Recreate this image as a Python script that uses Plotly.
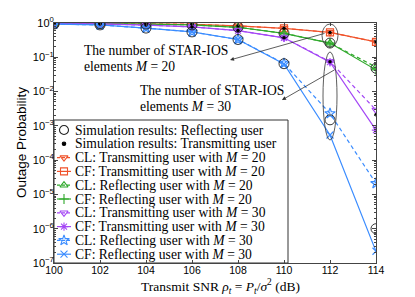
import plotly.graph_objects as go

# ---------------- data ----------------
snr = [100, 102, 104, 106, 108, 110, 112, 114]

cl_trans_m20 = [0.98, 0.97, 0.95, 0.92, 0.82, 0.70, 0.53, 0.28]
cf_trans_m20 = [0.98, 0.97, 0.95, 0.92, 0.82, 0.70, 0.53, 0.28]
cl_refl_m20 = [0.97, 0.96, 0.93, 0.88, 0.75, 0.50, 0.26, 0.052]
cf_refl_m20 = [0.97, 0.96, 0.93, 0.88, 0.75, 0.50, 0.26, 0.043]
cl_trans_m30 = [0.96, 0.94, 0.87, 0.77, 0.60, 0.37, 0.075, 0.0029]
cf_trans_m30 = [0.96, 0.94, 0.87, 0.77, 0.60, 0.37, 0.072, 0.00075]
cl_refl_m30 = [0.93, 0.88, 0.71, 0.55, 0.33, 0.066, 0.0023, 2.1e-5]
cf_refl_m30 = [0.93, 0.88, 0.71, 0.55, 0.33, 0.064, 0.00054, 2.2e-7]

sim_refl_m20 = [0.97, 0.96, 0.93, 0.88, 0.75, 0.50, 0.26, 0.048]
sim_refl_m30 = [0.93, 0.88, 0.71, 0.55, 0.33, 0.065, 0.0015, 1.0e-6]
sim_trans_m20 = [0.98, 0.97, 0.95, 0.92, 0.82, 0.70, 0.53, 0.28]
sim_trans_m30 = [0.96, 0.94, 0.87, 0.77, 0.60, 0.37, 0.074, 0.0021]

x_ticks = [100, 102, 104, 106, 108, 110, 112, 114]
y_tickvals = [1e-7, 1e-6, 1e-5, 1e-4, 1e-3, 1e-2, 1e-1, 1]
y_ticktext = ["10<sup>−7</sup>", "10<sup>−6</sup>", "10<sup>−5</sup>", "10<sup>−4</sup>",
              "10<sup>−3</sup>", "10<sup>−2</sup>", "10<sup>−1</sup>", "10<sup>0</sup>"]

RED = "#f0522a"
GREEN = "#2ea82a"
PURPLE = "#a447f5"
BLUE = "#3a8cff"

series = [
    ("CL: Transmitting user with <i>M</i> = 20", cl_trans_m20, RED, "triangle-down-open", "4px,3px", 7),
    ("CF: Transmitting user with <i>M</i> = 20", cf_trans_m20, RED, "square-open", "solid", 7),
    ("CL: Reflecting user with <i>M</i> = 20", cl_refl_m20, GREEN, "triangle-up-open", "4px,3px", 7),
    ("CF: Reflecting user with <i>M</i> = 20", cf_refl_m20, GREEN, "cross-thin-open", "solid", 7),
    ("CL: Transmitting user with <i>M</i> = 30", cl_trans_m30, PURPLE, "triangle-down-open", "4px,3px", 7),
    ("CF: Transmitting user with <i>M</i> = 30", cf_trans_m30, PURPLE, "asterisk-open", "solid", 7),
    ("CL: Reflecting user with <i>M</i> = 30", cl_refl_m30, BLUE, "star-open", "4px,3px", 8),
    ("CF: Reflecting user with <i>M</i> = 30", cf_refl_m30, BLUE, "x-thin-open", "solid", 7),
]

# plot area in pixels
L, R, T, B = 54, 39, 23, 34
W, H = 415, 297
PW, PH = W - L - R, H - T - B


def px(xp):
    return (xp - L) / PW


def py(yp):
    return (H - B - yp) / PH


fig = go.Figure()

for name, vals, col, sym, dash, ms in series:
    fig.add_trace(go.Scatter(
        x=snr, y=vals, mode="lines+markers", name=name, showlegend=False,
        line=dict(color=col, width=1.2, dash=dash),
        marker=dict(symbol=sym, size=ms, color=col, line=dict(color=col, width=1.2)),
    ))

for vals in (sim_refl_m20, sim_refl_m30):
    fig.add_trace(go.Scatter(
        x=snr, y=vals, mode="markers", showlegend=False,
        marker=dict(symbol="circle-open", size=10, color="#222", line=dict(color="#222", width=0.9)),
    ))
for vals in (sim_trans_m20, sim_trans_m30):
    fig.add_trace(go.Scatter(
        x=snr, y=vals, mode="markers", showlegend=False,
        marker=dict(symbol="circle", size=3.5, color="black"),
    ))

# ---------------- custom legend ----------------
legend_entries = [
    ("Simulation results: Reflecting user", "#222", "circle-open", None, 9),
    ("Simulation results: Transmitting user", "black", "circle", None, 3.5),
] + [(n, c, s, d, m) for n, _, c, s, d, m in series]

row0, dy = 130, 13.8
for i, (name, col, sym, dash, ms) in enumerate(legend_entries):
    yy = py(row0 + dy * i)
    if dash is not None:
        fig.add_trace(go.Scatter(
            x=[px(57), px(71)], y=[yy, yy], xaxis="x2", yaxis="y2", mode="lines",
            showlegend=False, hoverinfo="skip",
            line=dict(color=col, width=1.2, dash="solid" if dash == "solid" else "3px,2px"),
        ))
    fig.add_trace(go.Scatter(
        x=[px(64)], y=[yy], xaxis="x2", yaxis="y2", mode="markers",
        showlegend=False, hoverinfo="skip",
        marker=dict(symbol=sym, size=ms, color=col, line=dict(color=col, width=1.1)),
    ))
    fig.add_annotation(
        x=px(73), y=yy, xref="paper", yref="paper", text=name, showarrow=False,
        xanchor="left", yanchor="middle",
        font=dict(family="Liberation Serif", size=13.6, color="black"),
    )

shapes = [
    dict(type="rect", xref="paper", yref="paper", x0=0, x1=px(288), y0=0, y1=py(120),
         line=dict(color="#333", width=1), fillcolor="white", layer="below"),
    dict(type="circle", xref="paper", yref="paper", x0=px(322), x1=px(338), y0=py(47), y1=py(24),
         line=dict(color="#333", width=0.8)),
    dict(type="circle", xref="paper", yref="paper", x0=px(323), x1=px(337), y0=py(140), y1=py(52),
         line=dict(color="#333", width=0.8)),
]

text_lines = [
    (82, 50, "The number of STAR-IOS"),
    (82, 66, "elements <i>M</i> = 20"),
    (138, 90, "The number of STAR-IOS"),
    (138, 106, "elements <i>M</i> = 30"),
]
for xx, yy, t in text_lines:
    fig.add_annotation(x=px(xx), y=py(yy), xref="paper", yref="paper", text=t, showarrow=False,
                       xanchor="left", yanchor="middle",
                       font=dict(family="Liberation Serif", size=13.6, color="black"))

arrows = [((230, 60), (326, 33)), ((282, 100), (336, 69))]
for (hx, hy), (tx, ty) in arrows:
    fig.add_annotation(x=px(hx), y=py(hy), xref="paper", yref="paper", text="",
                       showarrow=True, ax=tx - hx, ay=ty - hy, arrowhead=2, arrowsize=1,
                       arrowwidth=0.8, arrowcolor="#333", standoff=0)

# axis titles as annotations for exact placement
fig.add_annotation(x=px(21), y=py(143), xref="paper", yref="paper", text="Outage Probability",
                   showarrow=False, textangle=-90, xanchor="center", yanchor="middle",
                   font=dict(family="Liberation Sans", size=13.5, color="black"))
fig.add_annotation(x=px(220), y=py(286), xref="paper", yref="paper",
                   text="Transmit SNR <i>ρ</i><sub><i>t</i></sub> = <i>P</i><sub><i>t</i></sub>/<i>σ</i><sup>2</sup> (dB)",
                   showarrow=False, xanchor="center", yanchor="middle",
                   font=dict(family="Liberation Serif", size=13.5, color="black"))

fig.update_layout(
    width=W, height=H, margin=dict(l=L, r=R, t=T, b=B, autoexpand=False),
    paper_bgcolor="white", plot_bgcolor="white",
    shapes=shapes, showlegend=False,
    xaxis=dict(range=[100, 114], tickvals=x_ticks, ticks="inside", ticklen=3,
               showgrid=False, zeroline=False, showline=True, linecolor="#444", linewidth=1,
               mirror="ticks", tickcolor="#444", ticklabelstandoff=-3, automargin=False,
               tickfont=dict(family="Liberation Sans", size=10.5, color="black")),
    yaxis=dict(type="log", range=[-7, 0], tickvals=y_tickvals, ticktext=y_ticktext,
               ticks="inside", ticklen=4,
               showgrid=False, zeroline=False, showline=True, linecolor="#444", linewidth=1,
               mirror="ticks", tickcolor="#444", automargin=False, ticklabelstandoff=-3,
               minor=dict(ticks="inside", ticklen=2, dtick="D1", tickcolor="#444", showgrid=False),
               tickfont=dict(family="Liberation Sans", size=11, color="black")),
    xaxis2=dict(overlaying="x", range=[0, 1], visible=False, fixedrange=True),
    yaxis2=dict(overlaying="y", range=[0, 1], visible=False, fixedrange=True),
)

fig.write_html("out.html", config={"displayModeBar": False},
               post_script="document.body.style.margin='0';")
